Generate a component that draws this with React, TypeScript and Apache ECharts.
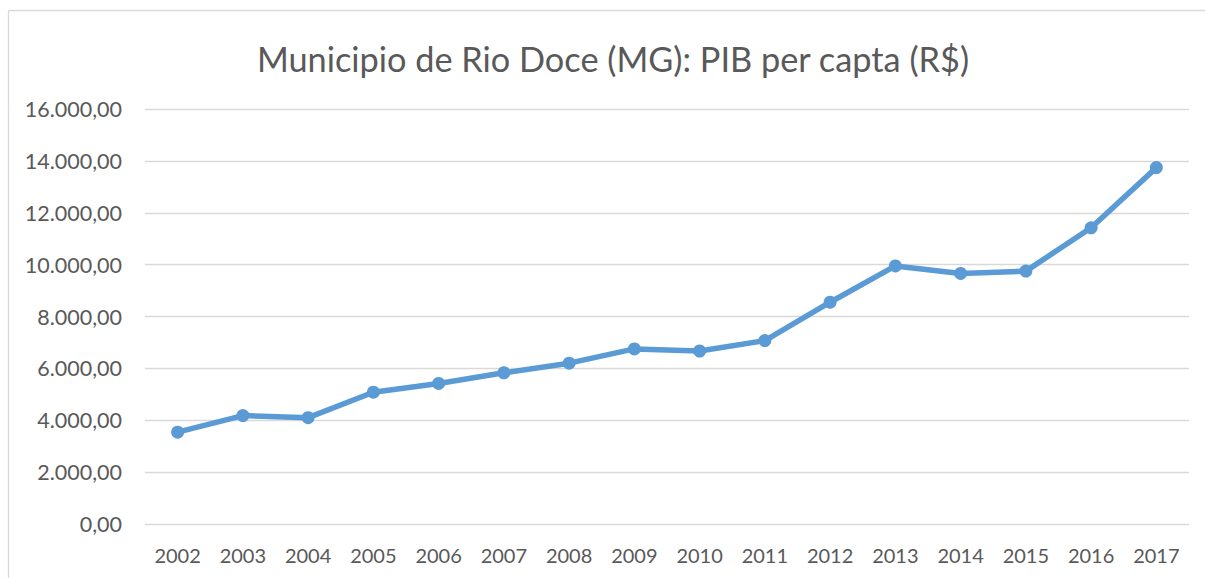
import React, { useEffect, useRef } from "react";
import * as echarts from "echarts";

const years = ["2002","2003","2004","2005","2006","2007","2008","2009","2010","2011","2012","2013","2014","2015","2016","2017"];
const pibPerCapita = [3540, 4180, 4100, 5080, 5420, 5830, 6200, 6750, 6670, 7070, 8550, 9950, 9660, 9750, 11420, 13740];
const titleText = "Municipio de Rio Doce (MG): PIB per capta (R$)";
const yMin = 0;
const yMax = 16000;
const yStep = 2000;

function fmtBR(v: number): string {
  const parts = v.toFixed(2).split(".");
  const intPart = parts[0].replace(/\B(?=(\d{3})+(?!\d))/g, ".");
  return intPart + "," + parts[1];
}

export default function App() {
  const ref = useRef<HTMLDivElement>(null);
  useEffect(() => {
    if (!ref.current) return;
    const chart = echarts.init(ref.current, null, { renderer: "svg" });
    chart.setOption({
      animation: false,
      backgroundColor: "#ffffff",
      title: {
        text: titleText,
        left: 608,
        textAlign: "center",
        top: 33,
        textStyle: {
          fontFamily: "Lato",
          fontSize: 34.3,
          fontWeight: "normal",
          color: "#595959",
          lineHeight: 40,
        },
      },
      graphic: [
        {
          type: "line",
          shape: { x1: 8.5, y1: 10.5, x2: 1205, y2: 10.5 },
          style: { stroke: "#d9d9d9", lineWidth: 1.3 },
          silent: true,
        },
        {
          type: "line",
          shape: { x1: 8.5, y1: 10.5, x2: 8.5, y2: 578 },
          style: { stroke: "#d9d9d9", lineWidth: 1.3 },
          silent: true,
        },
      ],
      grid: { left: 145, right: 16, top: 109, bottom: 54, containLabel: false },
      xAxis: {
        type: "category",
        data: years,
        boundaryGap: true,
        axisLine: { show: false },
        axisTick: { show: false },
        axisLabel: {
          margin: 21,
          fontFamily: "Lato",
          fontSize: 20,
          color: "#595959",
        },
      },
      yAxis: {
        type: "value",
        min: yMin,
        max: yMax,
        interval: yStep,
        axisLine: { show: false },
        axisTick: { show: false },
        splitLine: { lineStyle: { color: "#d9d9d9", width: 1.3 } },
        axisLabel: {
          margin: 23,
          fontFamily: "Lato",
          fontSize: 21.5,
          color: "#595959",
          formatter: (v: number) => fmtBR(v),
        },
      },
      series: [
        {
          type: "line",
          data: pibPerCapita,
          symbol: "circle",
          symbolSize: 13,
          lineStyle: { color: "#5B9BD5", width: 5.5 },
          itemStyle: { color: "#5B9BD5" },
        },
      ],
    });
    return () => chart.dispose();
  }, []);
  return (
    <div
      ref={ref}
      style={{ position: "absolute", left: 0, top: 0, width: 1205, height: 578 }}
    />
  );
}
